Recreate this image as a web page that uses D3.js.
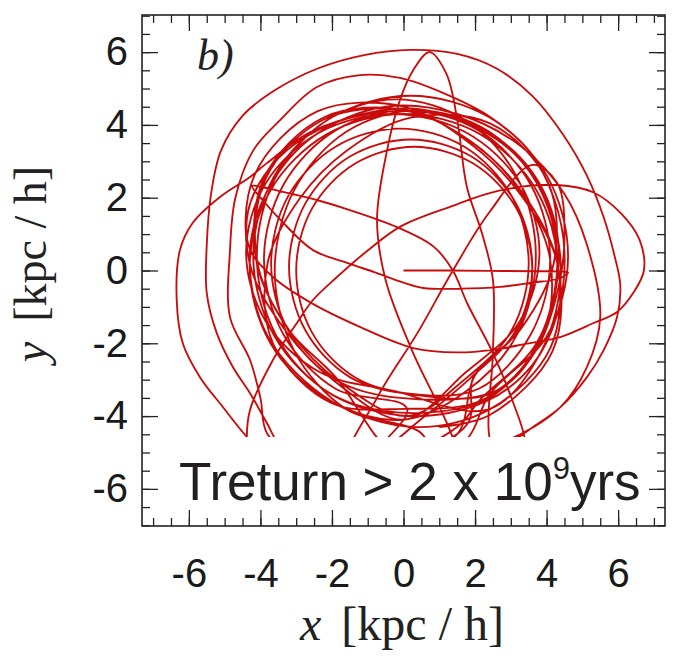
<!DOCTYPE html>
<html><head><meta charset="utf-8">
<script src="https://cdn.jsdelivr.net/npm/d3@7"></script>
<style>body{margin:0;background:#fff}svg{display:block}</style>
</head><body><svg id="c" width="675" height="660"></svg>
<script>
// ---- axis ticks ----
const majorTicks = [-6, -4, -2, 0, 2, 4, 6];
const minorTicks = [-7, -6.5, -6, -5.5, -5, -4.5, -4, -3.5, -3, -2.5, -2, -1.5, -1, -0.5, 0, 0.5, 1, 1.5, 2, 2.5, 3, 3.5, 4, 4.5, 5, 5.5, 6, 6.5, 7];

// ---- orbit (x, y in kpc/h) ----
const startLeg = [[0,0],[1.2,0.0],[2.4,-0.01],[3.6,-0.02],[4.45,-0.03],[4.6,-0.06],[4.35,-0.22],[3.62,-0.33],[2.7,-0.45],[1.6,-0.5],[0.55,-0.48],[0.0,-0.33],[-0.8,-0.05],[-1.58,0.21],[-2.53,0.56],[-3.4,1.35],[-3.95,1.95],[-4.23,2.32]];
const cuspChord = [[-3.9,2.28],[-3.37,2.16],[-2.4,1.93],[-1.5,1.66],[-0.18,1.19],[0.85,0.65],[1.38,0.0],[1.78,-0.9],[2.5,-2.27],[3.07,-3.64],[3.4,-4.7],[3.3,-5.6],[2.8,-5.5]];
const topPetal = [[2.4,-4.56],[2.5,-2.27],[2.5,-0.26],[2.2,1.0],[1.77,2.3],[1.5,4.16],[1.2,5.4],[0.73,6.0],[0.27,5.5],[-0.1,4.68],[-0.46,3.3],[-0.74,1.4],[-0.5,-0.26],[0.24,-2.2],[1.3,-4.4],[1.6,-5.4],[0.5,-5.9],[-1.0,-5.4]];
const ringA = [[0.1,-3.8],[-1.9,-3.25],[-3.36,-1.75],[-3.9,0.3],[-3.36,2.35],[-1.9,3.85],[0.1,4.4],[2.1,3.85],[3.56,2.35],[4.1,0.3],[3.56,-1.75],[2.1,-3.25]];
const ringB = [[0.3,-3.4],[-1.35,-2.94],[-2.56,-1.7],[-3.0,0.0],[-2.56,1.7],[-1.35,2.94],[0.3,3.4],[1.95,2.94],[3.16,1.7],[3.6,0.0],[3.16,-1.7],[1.95,-2.94]];
const leftArc = [[1.8,-4.2],[0.0,-5.2],[-2.0,-5.6],[-3.6,-5.3],[-4.38,-4.57],[-5.05,-3.75],[-5.69,-2.93],[-6.17,-2.0],[-6.34,-0.81],[-6.25,0.56],[-5.9,1.3],[-5.13,2.02],[-4.29,2.57],[-3.82,2.95],[-2.6,3.8],[-1.0,4.3],[0.6,4.35],[2.1,3.9],[3.3,3.0],[4.05,1.7],[4.3,0.2],[4.0,-1.4],[3.3,-2.7],[2.2,-3.6]];
const ringC = [[-0.2,-3.9],[-2.15,-3.32],[-3.58,-1.75],[-4.1,0.4],[-3.58,2.55],[-2.15,4.12],[-0.2,4.7],[1.75,4.12],[3.18,2.55],[3.7,0.4],[3.18,-1.75],[1.75,-3.32]];
const ringD = [[0.0,-4.1],[-2.15,-3.54],[-3.72,-2.0],[-4.3,0.1],[-3.72,2.2],[-2.15,3.74],[0.0,4.3],[2.15,3.74],[3.72,2.2],[4.3,0.1],[3.72,-2.0],[2.15,-3.54]];
const rightPetal = [[1.5,-4.3],[-0.8,-5.4],[-3.2,-5.9],[-4.3,-5.4],[-4.38,-4.57],[-4.29,-3.83],[-3.65,-2.46],[-2.98,-1.44],[-2.53,-0.81],[-1.86,-0.18],[-1.0,0.55],[-0.1,1.2],[1.3,1.75],[2.7,2.2],[4.3,2.35],[5.3,2.15],[6.1,1.55],[6.6,0.84],[6.72,0.0],[6.42,-0.62],[5.97,-1.14],[5.3,-1.45],[4.38,-1.83],[3.5,-2.0],[2.5,-2.18],[1.5,-2.25],[0.27,-2.13],[-1.22,-1.55],[-2.62,-0.87],[-3.65,-0.18],[-4.3,0.6],[-4.35,1.6],[-3.9,2.6],[-3.0,3.5],[-1.5,4.2],[0.2,4.45],[2.2,3.9],[3.6,2.7],[4.3,1.0],[4.2,-0.8],[3.6,-2.3],[2.4,-3.4]];
const ringE = [[0.2,-3.4],[-1.5,-2.93],[-2.74,-1.65],[-3.2,0.1],[-2.74,1.85],[-1.5,3.13],[0.2,3.6],[1.9,3.13],[3.14,1.85],[3.6,0.1],[3.14,-1.65],[1.9,-2.93]];
const outerLoop = [[0.6,-4.0],[-1.2,-5.3],[-2.6,-5.4],[-3.4,-4.9],[-3.82,-4.19],[-4.29,-3.37],[-4.77,-2.65],[-5.22,-1.72],[-5.5,-0.62],[-5.5,0.7],[-5.38,2.1],[-5.1,3.3],[-4.5,4.25],[-3.6,4.95],[-2.4,5.55],[-1.1,5.92],[0.2,6.06],[1.5,5.95],[2.6,5.55],[3.6,4.8],[4.45,3.75],[5.13,2.6],[5.6,1.45],[5.9,0.4],[6.06,-0.4],[5.97,-1.28],[5.6,-2.18],[5.13,-2.93],[4.38,-3.76],[3.62,-4.3],[2.6,-4.95],[1.2,-5.3],[-0.3,-5.0]];
const ringF = [[-1.88,-2.95],[-3.25,-1.58],[-4.1,0.3],[-3.85,2.53],[-2.23,4.15],[0.0,4.4],[1.88,3.55],[3.25,2.18],[4.1,0.3],[3.85,-1.93],[2.23,-3.55],[0.0,-3.8]];
const ringG = [[-2.02,-3.64],[-3.64,-2.02],[-3.8,0.2],[-2.89,1.99],[-1.59,3.29],[0.2,4.2],[2.42,4.04],[4.04,2.42],[4.2,0.2],[3.29,-1.59],[1.99,-2.89]];
const innerArc = [[1.5,-4.5],[-0.5,-5.5],[-2.5,-5.4],[-3.8,-4.5],[-4.0,-3.5],[-4.29,-2.46],[-4.85,-1.28],[-4.85,0.56],[-4.7,2.0],[-4.2,3.3],[-3.45,4.13],[-2.42,5.04],[-1.22,5.37],[-0.1,5.29],[1.1,4.88],[2.42,4.22],[3.5,3.3],[4.2,2.0],[4.5,0.5],[4.3,-1.2],[3.6,-2.6],[2.3,-3.6]];
const ringH = [[0.2,-4.0],[-2.0,-3.41],[-3.61,-1.8],[-4.2,0.4],[-3.61,2.6],[-2.0,4.21],[0.2,4.8],[2.4,4.21],[4.01,2.6],[4.6,0.4],[4.01,-1.8],[2.4,-3.41]];
const radialChord = [[1.8,-4.6],[0.5,-5.4],[-1.5,-5.2],[-0.74,-3.5],[0.4,-1.7],[1.38,0.0],[2.4,1.6],[3.6,2.9],[4.3,2.4],[4.5,1.0],[4.3,-0.6],[3.7,-2.2],[2.6,-3.3]];
const ringI = [[-0.1,-3.5],[-1.9,-3.0],[-3.22,-1.65],[-3.7,0.2],[-3.22,2.05],[-1.9,3.4],[-0.1,3.9],[1.7,3.4],[3.02,2.05],[3.5,0.2],[3.02,-1.65],[1.7,-3.0]];
const ringJ = [[0.1,-4.0],[-1.79,-3.06],[-3.16,-1.69],[-4.1,0.2],[-3.91,2.52],[-2.22,4.21],[0.1,4.4],[1.99,3.46],[3.36,2.09],[4.3,0.2],[4.11,-2.12],[2.42,-3.81]];
const rightArc = [[0.3,-4.3],[-2.0,-3.6],[-3.8,-1.8],[-4.3,0.4],[-3.8,2.2],[-2.5,3.7],[-0.5,4.5],[1.5,4.3],[3.3,3.4],[4.5,2.1],[5.13,0.7],[5.5,-1.28],[5.13,-2.65],[4.38,-3.76],[2.8,-4.7],[1.0,-5.0]];
const ringK = [[0.4,-4.4],[-1.6,-3.81],[-3.06,-2.2],[-3.6,0.0],[-3.06,2.2],[-1.6,3.81],[0.4,4.4],[2.4,3.81],[3.86,2.2],[4.4,0.0],[3.86,-2.2],[2.4,-3.81]];
const ringL = [[-0.3,-3.3],[-2.35,-2.79],[-3.85,-1.4],[-4.4,0.5],[-3.85,2.4],[-2.35,3.79],[-0.3,4.3],[1.75,3.79],[3.25,2.4],[3.8,0.5],[3.25,-1.4],[1.75,-2.79]];
const ringM = [[0.0,-4.1],[-1.89,-3.07],[-3.27,-1.69],[-4.3,0.2],[-4.17,2.61],[-2.41,4.37],[0.0,4.5],[1.89,3.47],[3.27,2.09],[4.3,0.2],[4.17,-2.21],[2.41,-3.97],[1.0,-4.3]];

const orbit = [].concat(startLeg, cuspChord, topPetal, ringA, ringB, leftArc, ringC, ringD,
  rightPetal, ringE, outerLoop, ringF, ringG, innerArc, ringH, radialChord, ringI, ringJ,
  rightArc, ringK, ringL, ringM);

// ---- layout ----
const L = 142, R = 665, T = 15, B = 526;
const x = d3.scaleLinear().domain([-7.31, 7.31]).range([L, R]);
const y = d3.scaleLinear().domain([-7.02, 7.02]).range([B, T]);
const svg = d3.select('#c');

svg.append('clipPath').attr('id', 'clip').append('rect')
  .attr('x', L).attr('y', T).attr('width', R - L).attr('height', B - T);

const line = d3.line().x(d => x(d[0])).y(d => y(d[1])).curve(d3.curveCatmullRom.alpha(0.5));
svg.append('path').datum(orbit).attr('d', line)
  .attr('clip-path', 'url(#clip)')
  .attr('fill', 'none').attr('stroke', '#c80c0c').attr('stroke-width', 1.85)
  .attr('stroke-linejoin', 'round');

// label box
svg.append('rect').attr('x', L + 1).attr('y', 437).attr('width', R - L - 2).attr('height', B - 437 - 1)
  .attr('fill', '#fff');

// ticks
function ticks(axis, tr, vals, size, fmt, pad) {
  const g = svg.append('g').attr('transform', tr)
    .call(axis.tickValues(vals).tickSize(size).tickPadding(pad || 3).tickFormat(fmt || (() => '')));
  g.select('.domain').remove();
  g.selectAll('line').attr('stroke', '#222').attr('stroke-width', 1.3);
  return g;
}
const fmt = d => String(d);
ticks(d3.axisBottom(x), `translate(0,${B})`, minorTicks, -8);
ticks(d3.axisTop(x), `translate(0,${T})`, minorTicks, -8);
ticks(d3.axisLeft(y), `translate(${L},0)`, minorTicks, -8);
ticks(d3.axisRight(y), `translate(${R},0)`, minorTicks, -8);
ticks(d3.axisTop(x), `translate(0,${T})`, majorTicks, -16);
ticks(d3.axisRight(y), `translate(${R},0)`, majorTicks, -16);
const gx = ticks(d3.axisBottom(x), `translate(0,${B})`, majorTicks, -16, fmt, 33);
const gy = ticks(d3.axisLeft(y), `translate(${L},0)`, majorTicks, -16, fmt, 14);
[gx, gy].forEach(g => g.selectAll('text')
  .attr('font-family', '"Liberation Sans", Arial, sans-serif').attr('font-size', 40).attr('fill', '#1a1a1a'));

// frame
svg.append('rect').attr('x', L).attr('y', T).attr('width', R - L).attr('height', B - T)
  .attr('fill', 'none').attr('stroke', '#222').attr('stroke-width', 1.6);

// axis titles
const serif = '"Liberation Serif", "Times New Roman", serif';
const xt = svg.append('text').attr('x', 402).attr('y', 640).attr('text-anchor', 'middle')
  .attr('font-family', serif).attr('font-size', 48).attr('fill', '#222');
xt.append('tspan').attr('font-style', 'italic').text('x');
xt.append('tspan').attr('dx', 20).text('[kpc / h]');

const yt = svg.append('text').attr('transform', 'translate(46,264) rotate(-90)').attr('text-anchor', 'middle')
  .attr('font-family', serif).attr('font-size', 46).attr('fill', '#222');
yt.append('tspan').attr('font-style', 'italic').text('y');
yt.append('tspan').attr('dx', 20).text('[kpc / h]');

svg.append('text').attr('x', 197).attr('y', 70).attr('font-family', serif)
  .attr('font-style', 'italic').attr('font-size', 44).attr('fill', '#222').text('b)');

// annotation
const ann = svg.append('text').attr('x', 179).attr('y', 500)
  .attr('font-family', '"Liberation Sans", Arial, sans-serif').attr('font-size', 53).attr('fill', '#231f20');
ann.append('tspan').text('Treturn > 2 x 10');
ann.append('tspan').attr('font-size', 31).attr('dy', -21).text('9');
ann.append('tspan').attr('dy', 21).text('yrs');
</script></body></html>
